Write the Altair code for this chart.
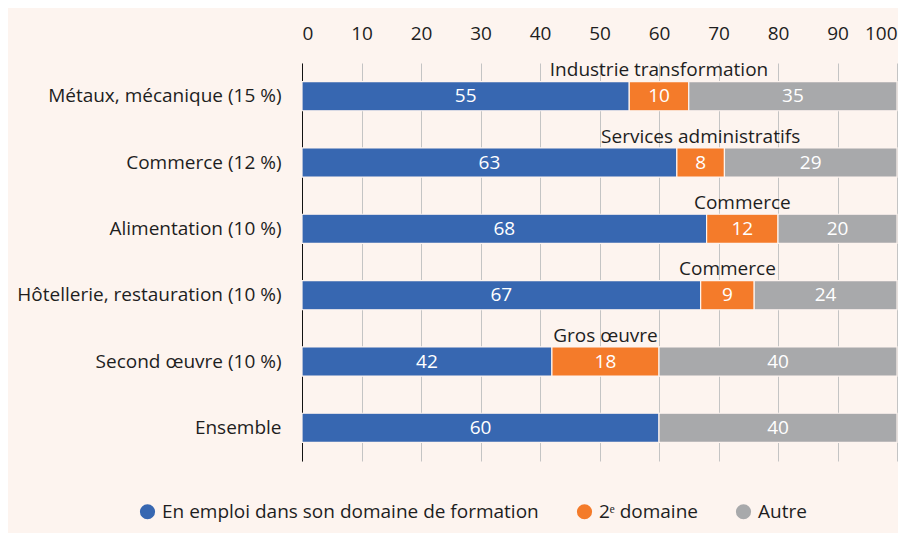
import altair as alt
import pandas as pd

categories = [
    "Métaux, mécanique (15 %)",
    "Commerce (12 %)",
    "Alimentation (10 %)",
    "Hôtellerie, restauration (10 %)",
    "Second œuvre (10 %)",
    "Ensemble",
]
in_domain = [55, 63, 68, 67, 42, 60]
second_domain = [10, 8, 12, 9, 18, 0]
other = [35, 29, 20, 24, 40, 40]
second_names = [
    "Industrie transformation",
    "Services administratifs",
    "Commerce",
    "Commerce",
    "Gros œuvre",
    "",
]
series = ["En emploi dans son domaine de formation", "2ᵉ domaine", "Autre"]
colors = ["#3767b1", "#f47b2a", "#a8a9ab"]
x_ticks = [0, 10, 20, 30, 40, 50, 60, 70, 80, 90, 100]

BG = "#fdf4ef"
FONT = "Open Sans"
TXT = "#1e1e1e"
FS = 19

rows = []
for i, c in enumerate(categories):
    vals = [in_domain[i], second_domain[i], other[i]]
    for j, s in enumerate(series):
        rows.append({
            "cat": c,
            "series": s,
            "order": j,
            "value": vals[j],
            "note": second_names[i] if j == 1 else "",
        })
df = pd.DataFrame(rows)

base = (
    alt.Chart(df)
    .transform_stack(stack="value", as_=["x0", "x1"], groupby=["cat"],
                     sort=[alt.SortField("order", order="ascending")])
    .transform_calculate(mid="(datum.x0 + datum.x1) / 2")
    .transform_filter("datum.value > 0")
)

y_enc = alt.Y(
    "cat:N",
    sort=categories,
    scale=alt.Scale(paddingInner=0.56, paddingOuter=0.28),
    axis=alt.Axis(
        title=None, ticks=False, domain=True, domainColor="#111111", domainWidth=1,
        labelFontSize=FS, labelColor=TXT, labelPadding=21, labelFont=FONT, grid=False,
        labelLimit=500,
    ),
)

x_scale = alt.Scale(domain=[0, 100], nice=False)

bars = base.mark_bar(stroke=BG, strokeWidth=1.2).encode(
    x=alt.X(
        "x0:Q",
        scale=x_scale,
        axis=alt.Axis(
            orient="top", values=x_ticks, title=None, grid=True, gridColor="#c4c4c4",
            gridWidth=1, domain=False, ticks=False, labelFontSize=FS, labelColor=TXT,
            labelPadding=20, labelFont=FONT,
        ),
    ),
    x2="x1:Q",
    y=y_enc,
    color=alt.Color(
        "series:N",
        scale=alt.Scale(domain=series, range=colors),
        sort=series,
        legend=alt.Legend(
            title=None, orient="none", direction="horizontal", legendX=-164, legendY=439,
            symbolType="circle", symbolSize=230, symbolStrokeWidth=0, labelFontSize=FS,
            labelColor=TXT, labelFont=FONT, columnPadding=36, symbolOffset=0, labelOffset=5,
            labelLimit=600,
        ),
    ),
    order=alt.Order("order:Q"),
)

labels = base.mark_text(color="white", fontSize=FS, font=FONT).encode(
    x=alt.X("mid:Q", scale=x_scale),
    y=alt.Y("cat:N", sort=categories),
    text="value:Q",
)

notes = (
    base.transform_filter("datum.note != ''")
    .mark_text(color=TXT, fontSize=FS, font=FONT, baseline="middle", dy=-26)
    .encode(
        x=alt.X("mid:Q", scale=x_scale),
        y=alt.Y("cat:N", sort=categories),
        text="note:N",
    )
)

chart = (
    alt.layer(bars, labels, notes)
    .properties(width=595, height=398, background=BG,
                padding={"left": 8, "top": 16, "right": 0, "bottom": 20})
    .configure_view(stroke=None)
)

chart.save("out.html", embed_options={"renderer": "svg", "actions": False})
